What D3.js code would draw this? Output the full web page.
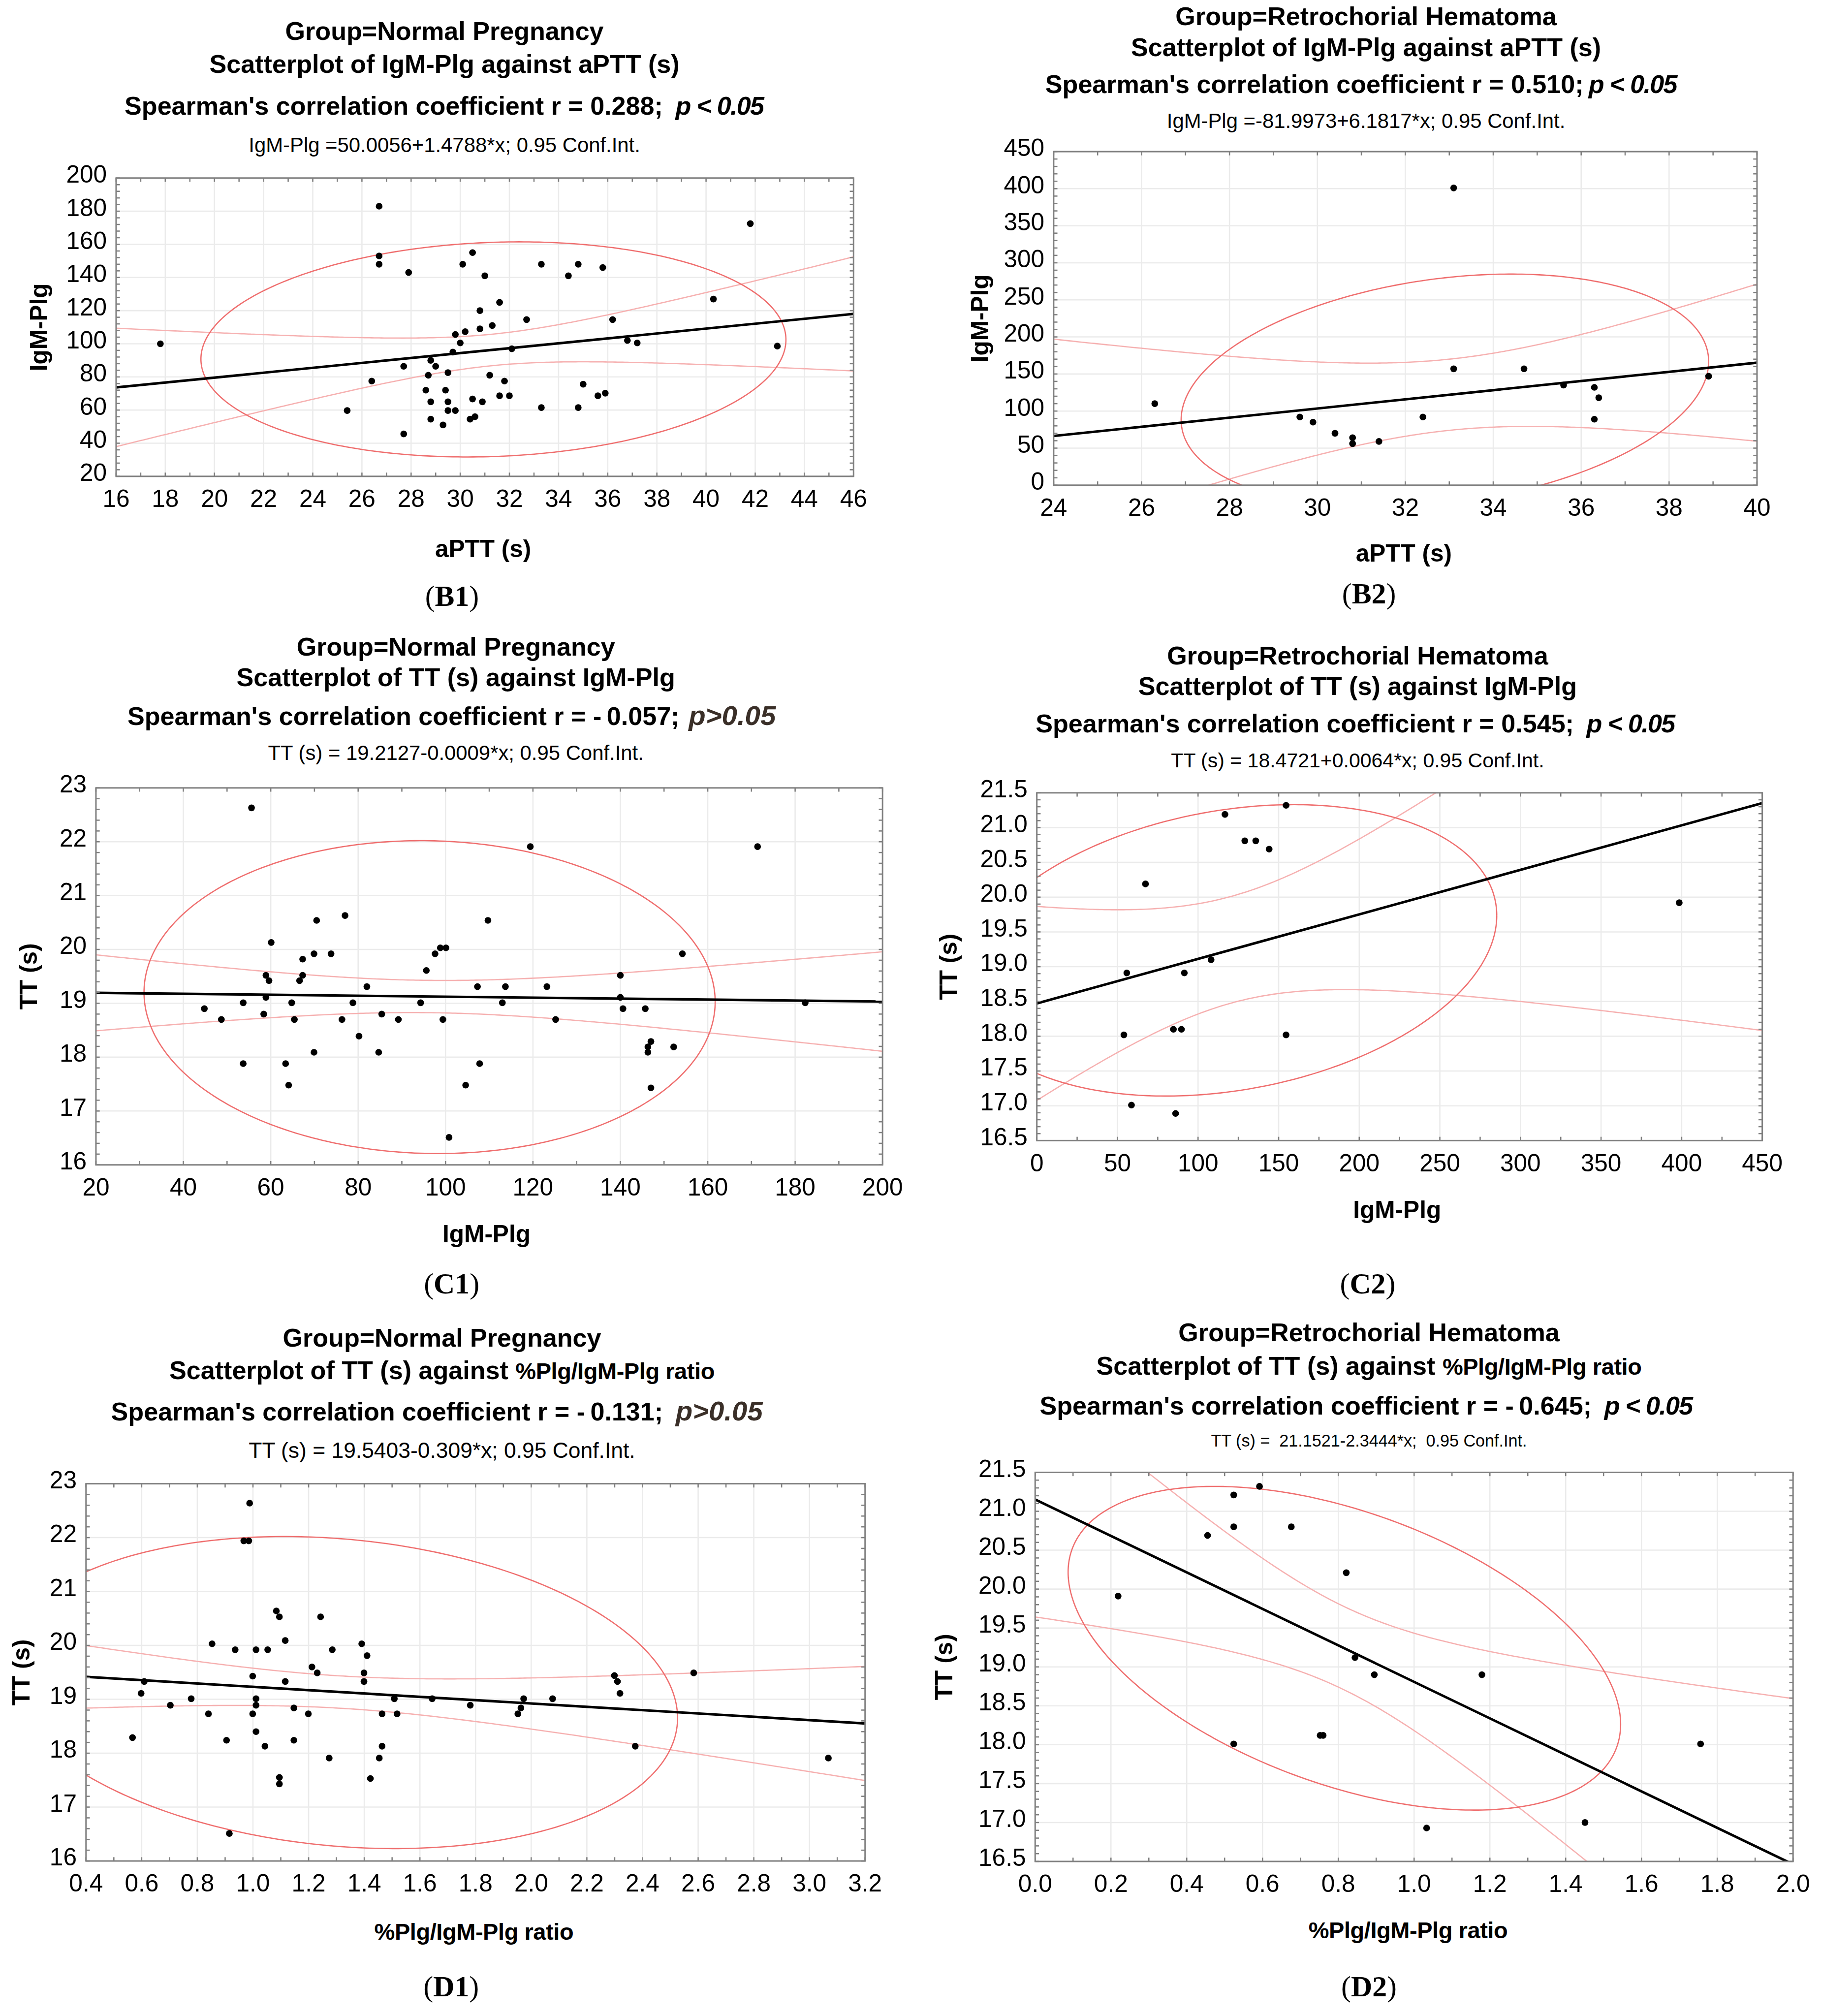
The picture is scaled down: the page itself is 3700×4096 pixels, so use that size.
<!DOCTYPE html>
<html>
<head>
<meta charset="utf-8">
<script src="https://cdn.jsdelivr.net/npm/d3@7"></script>
<style>
  body { margin: 0; background: #fff; }
  text { font-family: "Liberation Sans", Arial, sans-serif; }
</style>
</head>
<body>
<svg id="chart"></svg>
<script>
// ---- data ----
// B1: IgM-Plg against aPTT, normal pregnancy
const b1X = [17.8, 26.7, 26.7, 26.7, 27.9, 30.5, 30.1, 31.0, 33.3, 34.4, 34.8, 35.8, 41.8, 40.3, 31.6, 30.8, 32.7, 36.2, 30.8, 31.3,
  29.8, 30.2, 30.0, 36.8, 37.2, 42.9, 32.1, 29.7, 28.8, 29.0, 27.7, 29.5, 28.7, 31.2, 26.4, 31.8, 35.0, 28.6, 29.4, 35.9,
  35.6, 31.6, 32.0, 30.5, 28.8, 29.5, 30.9, 33.3, 34.8, 25.4, 29.5, 29.8, 30.6, 30.4, 28.8, 29.3, 27.7];
const b1Y = [100, 183, 153, 148, 143, 155, 148, 141, 148, 141, 148, 146, 172.5, 127, 125, 120, 114.6, 114.6, 109, 111,
  105.6, 107.3, 100.5, 102, 100.5, 98.6, 97, 95, 90, 86.4, 86.4, 82.6, 81, 81, 77.5, 77.5, 75.6, 72, 72, 70.2,
  68.6, 68.6, 68.6, 66.7, 65, 65, 65, 61.5, 61.5, 59.7, 59.7, 59.7, 56, 54.5, 54.5, 51, 45.6];
const b1Fit = [50.0056, 1.4788];             // intercept, slope
const b1Band = [31.3, 9.5, 2.25];            // centre x, half width at centre, growth per unit x
const b1Ell = [31.35, 96.6, 11.9, 64.9, 0.09]; // mean x, mean y, half range x, half range y, tilt
const b1XTicks = [16, 18, 20, 22, 24, 26, 28, 30, 32, 34, 36, 38, 40, 42, 44, 46];
const b1YTicks = [20, 40, 60, 80, 100, 120, 140, 160, 180, 200];

// B2: IgM-Plg against aPTT, retrochorial hematoma
const b2X = [26.3, 33.1, 33.1, 34.7, 35.6, 36.3, 36.4, 36.3, 38.9, 29.6, 29.9, 30.4, 30.8, 30.8, 31.4, 32.4];
const b2Y = [110, 401, 157, 157, 135, 132, 118, 89, 147, 92, 85, 70, 64, 56, 59, 92];
const b2Fit = [-81.9973, 6.1817];
const b2Band = [33.0, 48, 13.5];
const b2Ell = [32.9, 127.5, 6.0, 157.3, 0.25];
const b2XTicks = [24, 26, 28, 30, 32, 34, 36, 38, 40];
const b2YTicks = [0, 50, 100, 150, 200, 250, 300, 350, 400, 450];

// C1: TT against IgM-Plg, normal pregnancy
const c1X = [55.6, 119.4, 171.4, 77.0, 70.5, 109.7, 60.1, 69.9, 73.8, 97.6, 98.8, 100.1, 154.2, 67.3, 95.6, 58.9, 67.3, 59.6, 66.6, 82.0,
  107.3, 113.7, 123.2, 140.0, 58.9, 140.0, 53.7, 64.8, 78.8, 94.3, 113.0, 182.3, 44.8, 140.6, 145.7, 58.4, 85.4, 48.7, 65.4, 76.3,
  89.2, 99.4, 125.2, 80.2, 146.3, 147.0, 152.2, 146.3, 69.9, 84.7, 53.7, 63.4, 107.8, 64.1, 104.6, 147.0, 100.8];
const c1Y = [22.63, 21.91, 21.91, 20.63, 20.54, 20.54, 20.13, 19.92, 19.92, 19.92, 20.03, 20.03, 19.92, 19.82, 19.61, 19.52, 19.52, 19.42, 19.42, 19.31,
  19.31, 19.31, 19.31, 19.52, 19.11, 19.11, 19.01, 19.01, 19.01, 19.01, 19.01, 19.01, 18.9, 18.9, 18.9, 18.8, 18.8, 18.7, 18.7, 18.7,
  18.7, 18.7, 18.7, 18.39, 18.19, 18.29, 18.19, 18.09, 18.09, 18.09, 17.88, 17.88, 17.88, 17.48, 17.48, 17.43, 16.51];
const c1Fit = [19.2127, -0.0009];
const c1Band = [96, 0.3, 0.0084];
const c1Ell = [96.35, 19.115, 65.35, 2.905, -0.03];
const c1XTicks = [20, 40, 60, 80, 100, 120, 140, 160, 180, 200];
const c1YTicks = [16, 17, 18, 19, 20, 21, 22, 23];

// C2: TT against IgM-Plg, retrochorial hematoma
const c2X = [154.6, 116.7, 129.0, 135.8, 144.1, 67.4, 398.5, 108.1, 55.8, 91.5, 54.0, 84.7, 89.7, 154.6, 58.7, 86.1];
const c2Y = [21.32, 21.19, 20.81, 20.81, 20.69, 20.19, 19.92, 19.10, 18.91, 18.91, 18.02, 18.10, 18.10, 18.02, 17.01, 16.89];
const c2Fit = [18.4721, 0.0064];
const c2Band = [120.7, 0.767, 0.00965];
const c2Ell = [119.6, 19.235, 165.7, 2.095, 0.239];
const c2XTicks = [0, 50, 100, 150, 200, 250, 300, 350, 400, 450];
const c2YTicks = [16.5, 17, 17.5, 18, 18.5, 19, 19.5, 20, 20.5, 21, 21.5];

// D1: TT against %Plg/IgM-Plg ratio, normal pregnancy
const d1X = [0.988, 0.967, 0.985, 1.084, 1.095, 1.243, 1.116, 0.853, 1.391, 0.936, 1.011, 1.053, 1.285, 1.41, 1.212, 1.231, 1.399, 2.584, 0.999, 2.299,
  0.609, 1.116, 1.399, 2.31, 0.598, 2.319, 0.778, 1.011, 1.508, 1.644, 1.973, 2.077, 0.703, 1.011, 1.147, 1.781, 1.963, 0.84, 0.999, 1.199,
  1.464, 1.518, 1.952, 0.567, 1.011, 0.905, 1.147, 1.043, 1.464, 2.374, 1.274, 1.454, 3.068, 1.095, 1.095, 1.422, 0.915];
const d1Y = [22.64, 21.94, 21.94, 20.64, 20.53, 20.53, 20.09, 20.03, 20.03, 19.92, 19.92, 19.92, 19.92, 19.81, 19.60, 19.49, 19.49, 19.49, 19.43, 19.44,
  19.33, 19.33, 19.33, 19.33, 19.11, 19.11, 19.01, 19.01, 19.01, 19.01, 19.01, 19.01, 18.89, 18.89, 18.84, 18.89, 18.84, 18.73, 18.73, 18.73,
  18.73, 18.73, 18.73, 18.29, 18.40, 18.24, 18.24, 18.13, 18.13, 18.13, 17.91, 17.91, 17.91, 17.55, 17.43, 17.53, 16.51];
const d1Fit = [19.5403, -0.309];
const d1Band = [1.32, 0.3, 0.54];
const d1Ell = [1.312, 19.125, 1.214, 2.895, -0.163];
const d1XTicks = [0.4, 0.6, 0.8, 1.0, 1.2, 1.4, 1.6, 1.8, 2.0, 2.2, 2.4, 2.6, 2.8, 3.0, 3.2];
const d1YTicks = [16, 17, 18, 19, 20, 21, 22, 23];

// D2: TT against %Plg/IgM-Plg ratio, retrochorial hematoma
const d2X = [0.592, 0.524, 0.524, 0.676, 0.455, 0.821, 0.219, 0.844, 0.895, 1.179, 0.752, 0.760, 0.524, 1.756, 1.451, 1.033];
const d2Y = [21.32, 21.21, 20.80, 20.80, 20.69, 20.21, 19.91, 19.12, 18.90, 18.90, 18.12, 18.12, 18.01, 18.01, 17.00, 16.93];
const d2Fit = [21.1521, -2.3444];
const d2Band = [0.813, 0.535, 1.737];
const d2Ell = [0.816, 19.24, 0.729, 2.08, -0.47];
const d2XTicks = [0.0, 0.2, 0.4, 0.6, 0.8, 1.0, 1.2, 1.4, 1.6, 1.8, 2.0];
const d2YTicks = [16.5, 17, 17.5, 18, 18.5, 19, 19.5, 20, 20.5, 21, 21.5];

const groups = ["Group=Normal Pregnancy", "Group=Retrochorial Hematoma"];
const equations = [
  "IgM-Plg =50.0056+1.4788*x; 0.95 Conf.Int.",
  "IgM-Plg =-81.9973+6.1817*x; 0.95 Conf.Int.",
  "TT (s) = 19.2127-0.0009*x; 0.95 Conf.Int.",
  "TT (s) = 18.4721+0.0064*x; 0.95 Conf.Int.",
  "TT (s) = 19.5403-0.309*x; 0.95 Conf.Int.",
  "TT (s) =  21.1521-2.3444*x;  0.95 Conf.Int."
];

// ---- layout (reference pixel units, scaled by the viewBox) ----
const panels = [
  { id: "b1", xs: b1X, ys: b1Y, fit: b1Fit, band: b1Band, ell: b1Ell, xTicks: b1XTicks, yTicks: b1YTicks, xFmt: "d", yFmt: "d",
    box: [276, 423.5, 2030, 1133], tx: 1057, t3x: 1056, ty: [95, 173, 273, 362],
    group: groups[0], what: "Scatterplot of IgM-Plg against aPTT (s)", whatTail: null,
    r: "0.288;", p: "p < 0.05", pGap: 30, pDark: false, eq: equations[0], eqSize: 49,
    xLabel: "aPTT (s)", narrowX: false, xLabelX: 1149, xLabelY: 1325, yLabel: "IgM-Plg", yLabelX: 112,
    tag: "B1", tagX: 1075, tagY: 1441 },
  { id: "b2", xs: b2X, ys: b2Y, fit: b2Fit, band: b2Band, ell: b2Ell, xTicks: b2XTicks, yTicks: b2YTicks, xFmt: "d", yFmt: "d",
    box: [2506, 360.6, 4179, 1154], tx: 3249, t3x: 3237, ty: [60, 133, 221, 304],
    group: groups[1], what: "Scatterplot of IgM-Plg against aPTT (s)", whatTail: null,
    r: "0.510;", p: "p < 0.05", pGap: 12, pDark: false, eq: equations[1], eqSize: 49,
    xLabel: "aPTT (s)", narrowX: false, xLabelX: 3339, xLabelY: 1336, yLabel: "IgM-Plg", yLabelX: 2350,
    tag: "B2", tagX: 3256, tagY: 1435 },
  { id: "c1", xs: c1X, ys: c1Y, fit: c1Fit, band: c1Band, ell: c1Ell, xTicks: c1XTicks, yTicks: c1YTicks, xFmt: "d", yFmt: "d",
    box: [228, 1874, 2099, 2770.6], tx: 1084, t3x: 1074, ty: [1559, 1632, 1724, 1807],
    group: groups[0], what: "Scatterplot of TT (s) against IgM-Plg", whatTail: null,
    r: "-\u20090.057;", p: "p>0.05", pGap: 22, pDark: true, eq: equations[2], eqSize: 49,
    xLabel: "IgM-Plg", narrowX: false, xLabelX: 1157, xLabelY: 2955, yLabel: "TT (s)", yLabelX: 88,
    tag: "C1", tagX: 1074, tagY: 3076 },
  { id: "c2", xs: c2X, ys: c2Y, fit: c2Fit, band: c2Band, ell: c2Ell, xTicks: c2XTicks, yTicks: c2YTicks, xFmt: "d", yFmt: ".1f",
    box: [2466, 1885.7, 4191.5, 2712.8], tx: 3229, t3x: 3223, ty: [1580, 1653, 1742, 1825],
    group: groups[1], what: "Scatterplot of TT (s) against IgM-Plg", whatTail: null,
    r: "0.545;", p: "p < 0.05", pGap: 30, pDark: false, eq: equations[3], eqSize: 48,
    xLabel: "IgM-Plg", narrowX: false, xLabelX: 3323, xLabelY: 2897, yLabel: "TT (s)", yLabelX: 2276,
    tag: "C2", tagX: 3253, tagY: 3076 },
  { id: "d1", xs: d1X, ys: d1Y, fit: d1Fit, band: d1Band, ell: d1Ell, xTicks: d1XTicks, yTicks: d1YTicks, xFmt: ".1f", yFmt: "d",
    box: [204.4, 3529, 2057.5, 4426.3], tx: 1051, t3x: 1039, ty: [3203, 3280, 3379, 3468],
    group: groups[0], what: "Scatterplot of TT (s) against ", whatTail: "%Plg/IgM-Plg ratio",
    r: "-\u20090.131;", p: "p>0.05", pGap: 30, pDark: true, eq: equations[4], eqSize: 52,
    xLabel: "%Plg/IgM-Plg ratio", narrowX: true, xLabelX: 1127, xLabelY: 4613, yLabel: "TT (s)", yLabelX: 70,
    tag: "D1", tagX: 1073, tagY: 4748 },
  { id: "d2", xs: d2X, ys: d2Y, fit: d2Fit, band: d2Band, ell: d2Ell, xTicks: d2XTicks, yTicks: d2YTicks, xFmt: ".1f", yFmt: ".1f",
    box: [2462, 3502, 4264.7, 4427.4], tx: 3256, t3x: 3249, ty: [3190, 3270, 3365, 3440],
    group: groups[1], what: "Scatterplot of TT (s) against ", whatTail: "%Plg/IgM-Plg ratio",
    r: "-\u20090.645;", p: "p < 0.05", pGap: 30, pDark: false, eq: equations[5], eqSize: 40,
    xLabel: "%Plg/IgM-Plg ratio", narrowX: true, xLabelX: 3349, xLabelY: 4610, yLabel: "TT (s)", yLabelX: 2265,
    tag: "D2", tagX: 3256, tagY: 4748 }
];

const W = 4331, H = 4795;
const svg = d3.select("#chart")
  .attr("width", 3700)
  .attr("height", 4096)
  .attr("viewBox", `0 0 ${W} ${H}`);
svg.append("rect").attr("width", W).attr("height", H).attr("fill", "#fff");

const frameColor = "#808080";
const gridColor = "#ebebeb";
const bandColor = "#f6b1b1";
const ellColor = "#ef6f6f";

// major ticks plus evenly spaced minor ticks between them
function withMinors(ticks, div) {
  const out = [];
  for (let i = 0; i < ticks.length - 1; i++) {
    const step = (ticks[i + 1] - ticks[i]) / div;
    for (let k = 0; k < div; k++) out.push(ticks[i] + k * step);
  }
  out.push(ticks[ticks.length - 1]);
  return out;
}

function drawPanel(p) {
  const [L, T, R, B] = p.box;
  const x = d3.scaleLinear().domain(d3.extent(p.xTicks)).range([L, R]);
  const y = d3.scaleLinear().domain(d3.extent(p.yTicks)).range([B, T]);
  const g = svg.append("g").attr("class", "panel-" + p.id);

  g.append("clipPath").attr("id", "clip-" + p.id)
    .append("rect").attr("x", L).attr("y", T).attr("width", R - L).attr("height", B - T);

  // grid
  g.append("g").selectAll("line").data(p.xTicks).join("line")
    .attr("x1", d => x(d)).attr("x2", d => x(d)).attr("y1", T).attr("y2", B)
    .attr("stroke", gridColor).attr("stroke-width", 3);
  g.append("g").selectAll("line").data(p.yTicks).join("line")
    .attr("y1", d => y(d)).attr("y2", d => y(d)).attr("x1", L).attr("x2", R)
    .attr("stroke", gridColor).attr("stroke-width", 3);

  const plot = g.append("g").attr("clip-path", `url(#clip-${p.id})`);
  const [xa, xb] = x.domain();
  const fitY = v => p.fit[0] + p.fit[1] * v;

  // confidence bands of the fit
  const [c0, ha, hb] = p.band;
  const half = v => Math.sqrt(ha * ha + hb * hb * (v - c0) * (v - c0));
  const xs = d3.range(0, 301).map(i => xa + (xb - xa) * i / 300);
  [1, -1].forEach(s => {
    plot.append("path")
      .attr("d", d3.line().x(v => x(v)).y(v => y(fitY(v) + s * half(v)))(xs))
      .attr("fill", "none").attr("stroke", bandColor).attr("stroke-width", 3);
  });

  // confidence ellipse
  const [mx, my, sx, sy, rho] = p.ell;
  const ts = d3.range(0, 361).map(i => i * Math.PI / 180);
  plot.append("path")
    .attr("d", d3.line()
      .x(t => x(mx + sx * Math.cos(t)))
      .y(t => y(my + sy * (rho * Math.cos(t) + Math.sqrt(1 - rho * rho) * Math.sin(t))))(ts))
    .attr("fill", "none").attr("stroke", ellColor).attr("stroke-width", 3);

  // regression line
  plot.append("line")
    .attr("x1", x(xa)).attr("y1", y(fitY(xa)))
    .attr("x2", x(xb)).attr("y2", y(fitY(xb)))
    .attr("stroke", "#000").attr("stroke-width", 6);

  // points
  g.append("g").selectAll("circle").data(d3.zip(p.xs, p.ys)).join("circle")
    .attr("cx", d => x(d[0])).attr("cy", d => y(d[1])).attr("r", 8)
    .attr("fill", "#000");

  // frame and inward ticks on all four sides
  g.append("rect").attr("x", L).attr("y", T).attr("width", R - L).attr("height", B - T)
    .attr("fill", "none").attr("stroke", frameColor).attr("stroke-width", 3.5);
  const tl = 9;
  const xm = withMinors(p.xTicks, 2), ym = withMinors(p.yTicks, 5);
  const tk = g.append("g").attr("stroke", frameColor).attr("stroke-width", 3);
  tk.selectAll(".tb").data(xm).join("line").attr("class", "tb")
    .attr("x1", d => x(d)).attr("x2", d => x(d)).attr("y1", B).attr("y2", B - tl);
  tk.selectAll(".tt").data(xm).join("line").attr("class", "tt")
    .attr("x1", d => x(d)).attr("x2", d => x(d)).attr("y1", T).attr("y2", T + tl);
  tk.selectAll(".tl").data(ym).join("line").attr("class", "tl")
    .attr("y1", d => y(d)).attr("y2", d => y(d)).attr("x1", L).attr("x2", L + tl);
  tk.selectAll(".tr").data(ym).join("line").attr("class", "tr")
    .attr("y1", d => y(d)).attr("y2", d => y(d)).attr("x1", R).attr("x2", R - tl);

  // tick labels
  const fx = d3.format(p.xFmt), fy = d3.format(p.yFmt);
  g.append("g").selectAll("text").data(p.xTicks).join("text")
    .attr("x", d => x(d)).attr("y", B + 73)
    .attr("text-anchor", "middle").attr("font-size", 58).text(d => fx(d));
  g.append("g").selectAll("text").data(p.yTicks).join("text")
    .attr("x", L - 22).attr("y", d => y(d) + 11)
    .attr("text-anchor", "end").attr("font-size", 58).text(d => fy(d));

  // titles
  g.append("text").attr("x", p.tx).attr("y", p.ty[0]).attr("text-anchor", "middle")
    .attr("font-size", 61).attr("font-weight", "bold").text(p.group);
  const t2 = g.append("text").attr("x", p.tx).attr("y", p.ty[1]).attr("text-anchor", "middle")
    .attr("font-size", 61).attr("font-weight", "bold");
  t2.append("tspan").text(p.what);
  if (p.whatTail) {
    t2.append("tspan").attr("font-size", 55).attr("letter-spacing", -0.5).text(p.whatTail);
  }
  const t3 = g.append("text").attr("x", p.t3x).attr("y", p.ty[2]).attr("text-anchor", "middle")
    .attr("font-size", 61).attr("font-weight", "bold");
  t3.append("tspan").text("Spearman's correlation coefficient r = " + p.r);
  t3.append("tspan").attr("dx", p.pGap).attr("font-style", "italic")
    .attr("font-size", p.pDark ? 66 : 61).attr("letter-spacing", p.pDark ? 0 : -2)
    .attr("fill", p.pDark ? "#3a2f28" : "#000").text(p.p);
  g.append("text").attr("x", p.tx).attr("y", p.ty[3]).attr("text-anchor", "middle")
    .attr("font-size", p.eqSize).attr("xml:space", "preserve").style("white-space", "pre").text(p.eq);

  // axis titles
  const xl = g.append("text").attr("x", p.xLabelX).attr("y", p.xLabelY).attr("text-anchor", "middle")
    .attr("font-weight", "bold").text(p.xLabel);
  if (p.narrowX) xl.attr("font-size", 55).attr("letter-spacing", -0.5);
  else xl.attr("font-size", 58);
  g.append("text")
    .attr("transform", `translate(${p.yLabelX},${(T + B) / 2}) rotate(-90)`)
    .attr("text-anchor", "middle").attr("font-size", 58).attr("font-weight", "bold")
    .text(p.yLabel);

  // panel tag
  const tag = g.append("text").attr("x", p.tagX).attr("y", p.tagY).attr("text-anchor", "middle")
    .attr("font-size", 70).style("font-family", '"Liberation Serif", "Times New Roman", serif');
  tag.append("tspan").text("(");
  tag.append("tspan").attr("font-weight", "bold").text(p.tag);
  tag.append("tspan").text(")");
}

panels.forEach(drawPanel);
</script>
</body>
</html>
